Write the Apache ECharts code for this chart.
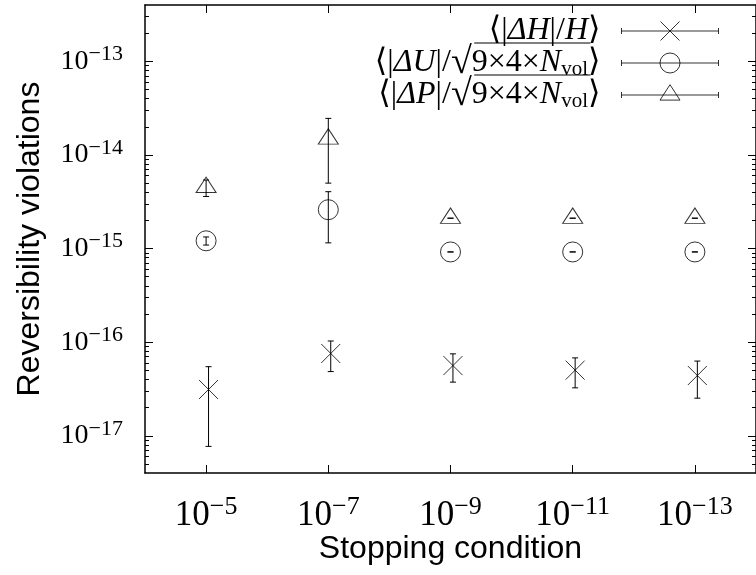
<!DOCTYPE html>
<html><head><meta charset="utf-8">
<script src="https://cdn.jsdelivr.net/npm/echarts@6/dist/echarts.min.js"></script>
<style>html,body{margin:0;padding:0;background:#fff}#c{width:756px;height:575px}</style>
</head><body><div id="c"></div>
<script>
// ---- data ----
const xPositions = [1, 2, 3, 4, 5];
const xExponents = [-5, -7, -9, -11, -13];      // stopping condition 10^e
const yExponents = [-17, -16, -15, -14, -13];   // y tick labels 10^e
const minorMultipliers = [2, 3, 4, 5, 6, 7, 8, 9];
const seriesNames = ['⟨|ΔH|/H⟩', '⟨|ΔU|/√9×4×N_vol⟩', '⟨|ΔP|/√9×4×N_vol⟩'];
const hMean = [3.12e-17, 7.57e-17, 5.62e-17, 5.02e-17, 4.40e-17];
const hErr  = [2.35e-17, 2.72e-17, 1.88e-17, 1.77e-17, 1.88e-17];
const uMean = [1.21e-15, 2.60e-15, 9.2e-16, 9.2e-16, 9.2e-16];
const uErr  = [1.2e-16, 1.45e-15, 2e-18, 2e-18, 2e-18];
const pMean = [4.50e-15, 1.48e-14, 2.11e-15, 2.11e-15, 2.11e-15];
const pErr  = [9.0e-16, 9.8e-15, 3e-18, 3e-18, 3e-18];
const hShift = 0.02; // the ΔH points are drawn slightly to the right

// ---- helpers ----
const SERIF = "'Liberation Serif','DejaVu Serif',serif";
const SANS = "'Liberation Sans','DejaVu Sans',sans-serif";
const yMin = 4e-18, yMax = 4e-13;
const yMajor = yExponents.map(e => Math.pow(10, e));
const yMinor = [];
for (let d = -18; d <= -13; d++) minorMultipliers.forEach(m => { const v = m * Math.pow(10, d); if (v > yMin * 1.0001 && v < yMax * 0.9999) yMinor.push(v); });
const expStr = e => (e < 0 ? '−' + (-e) : String(e));
const powRich = e => '{b|10}{s|' + expStr(e) + '}';
const yTickRich = {
  b: { fontFamily: SERIF, fontSize: 28, lineHeight: 20, color: '#000' },
  s: { fontFamily: SERIF, fontSize: 22, lineHeight: 6, padding: [0, 0, 14, 0], color: '#000' }
};
const xTickRich = {
  b: { fontFamily: SERIF, fontSize: 35, lineHeight: 20, color: '#000' },
  s: { fontFamily: SERIF, fontSize: 26, lineHeight: 2, padding: [0, 0, 18, 0], color: '#000' }
};
const zip = (xs, ys, es, sh) => xs.map((x, i) => [x + sh, ys[i], es[i]]);
const BLACK = '#000';

function errRender(params, api) {
  const x = api.value(0), y = api.value(1), e = api.value(2);
  const t = api.coord([x, y + e]), b = api.coord([x, y - e]);
  const st = { stroke: BLACK, lineWidth: 1, fill: 'none' };
  return { type: 'group', children: [
    { type: 'line', shape: { x1: t[0], y1: t[1], x2: b[0], y2: b[1] }, style: st },
    { type: 'line', shape: { x1: t[0] - 3, y1: t[1], x2: t[0] + 3, y2: t[1] }, style: st },
    { type: 'line', shape: { x1: b[0] - 3, y1: b[1], x2: b[0] + 3, y2: b[1] }, style: st }
  ]};
}

const symStyle = { color: 'none', borderColor: BLACK, borderWidth: 1 };
const crossPath = 'path://M0 0L19 19M19 0L0 19';

// legend sample icons: 97 x 44 box, sample line at mid-height (y = 22)
const legendIcons = [
  'path://M0 0M97 44M0 19L0 25M0 22L97 22M97 19L97 25M39 12.5L58 31.5M58 12.5L39 31.5',
  'path://M0 0M97 44M0 19L0 25M0 22L97 22M97 19L97 25M38.5 22A10 10 0 1 0 58.5 22A10 10 0 1 0 38.5 22',
  'path://M0 0M97 44M0 19L0 25M0 22L97 22M97 19L97 25M48.5 11.7L58.5 27.1L38.5 27.1Z'
];
const LF = 32, LSUB = 21, LROOT = 38;
const legendRich = {
  n: { fontFamily: SERIF, fontSize: LF, lineHeight: 20, color: '#000' },
  i: { fontFamily: SERIF, fontSize: LF, fontStyle: 'italic', lineHeight: 20, color: '#000' },
  r: { fontFamily: SERIF, fontSize: LROOT, lineHeight: 20, color: '#000' },
  sub: { fontFamily: SERIF, fontSize: LSUB, lineHeight: 8, padding: [12, 0, 0, 0], color: '#000' }
};
const legendText = {};
legendText[seriesNames[0]] = '{n|⟨|}{i|ΔH}{n||/}{i|H}{n|⟩}';
legendText[seriesNames[1]] = '{n|⟨|}{i|ΔU}{n||/}{r|√}{n|9×4×}{i|N}{sub|vol}{n|⟩}';
legendText[seriesNames[2]] = '{n|⟨|}{i|ΔP}{n||/}{r|√}{n|9×4×}{i|N}{sub|vol}{n|⟩}';

// legend geometry (one legend block per entry, rows 32 px apart)
const LEG_RIGHT = 35, ICON_W = 97, ICON_H = 44, TEXT_PAD = 16;
const ROW1_Y = 29, ROW_STEP = 32;
const rowY = k => ROW1_Y + k * ROW_STEP;
const textRight = 756 - LEG_RIGHT - ICON_W - 5 - TEXT_PAD;
const ctx = document.createElement('canvas').getContext('2d');
const mw = (t, font) => { ctx.font = font; return ctx.measureText(t).width; };
const wClose = mw('⟩', LF + 'px ' + SERIF);
const wRad = mw('9×4×', LF + 'px ' + SERIF) + mw('N', 'italic ' + LF + 'px ' + SERIF) + mw('vol', LSUB + 'px ' + SERIF);
const ovX2 = textRight - wClose, ovX1 = ovX2 - wRad;

const legends = seriesNames.map((n, k) => ({
  orient: 'vertical', align: 'right', right: LEG_RIGHT, top: rowY(k) - ICON_H / 2 - 0.5, padding: 0,
  itemWidth: ICON_W, itemHeight: ICON_H, itemGap: 0, symbolKeepAspect: true,
  selectedMode: false,
  itemStyle: { color: 'none', borderColor: BLACK, borderWidth: 1 },
  textStyle: { rich: legendRich, padding: [0, TEXT_PAD, 0, 0] },
  formatter: name => legendText[name],
  data: [{ name: n, icon: legendIcons[k] }]
}));

const xAxisBase = {
  type: 'value', min: 0.5, max: 5.5,
  axisLine: { show: true, lineStyle: { color: BLACK, width: 1.5 } },
  axisTick: { show: true, inside: true, length: 8, customValues: xPositions, lineStyle: { color: BLACK, width: 1 } },
  splitLine: { show: false }
};
const yBase = {
  type: 'log', logBase: 10, min: yMin, max: yMax,
  axisLine: { show: true, lineStyle: { color: BLACK, width: 1.5 } },
  splitLine: { show: false }, minorTick: { show: false }
};

const option = {
  animation: false,
  backgroundColor: '#fff',
  grid: { left: 145, top: 5, width: 615, height: 468, containLabel: false },
  xAxis: [
    Object.assign({}, xAxisBase, {
      position: 'bottom',
      axisLabel: { customValues: xPositions, margin: 33, rich: xTickRich,
        formatter: v => powRich(xExponents[xPositions.indexOf(Math.round(v))]) },
      name: 'Stopping condition', nameLocation: 'middle', nameGap: 60, nameMoveOverlap: false,
      nameTextStyle: { fontFamily: SANS, fontSize: 32, color: BLACK }
    }),
    Object.assign({}, xAxisBase, { position: 'top', axisLabel: { show: false } })
  ],
  yAxis: [
    Object.assign({}, yBase, {
      position: 'left',
      axisTick: { show: true, inside: true, length: 8, customValues: yMajor, lineStyle: { color: BLACK } },
      axisLabel: { customValues: yMajor, margin: 22, rich: yTickRich,
        formatter: v => powRich(Math.round(Math.log10(v))) },
      name: 'Reversibility violations', nameLocation: 'middle', nameGap: 99, nameMoveOverlap: false,
      nameTextStyle: { fontFamily: SANS, fontSize: 32, color: BLACK }
    }),
    Object.assign({}, yBase, {
      position: 'left', axisLine: { show: false },
      axisTick: { show: true, inside: true, length: 4, customValues: yMinor, lineStyle: { color: BLACK } },
      axisLabel: { show: false }
    }),
    Object.assign({}, yBase, {
      position: 'right',
      axisTick: { show: true, inside: true, length: 8, customValues: yMajor, lineStyle: { color: BLACK } },
      axisLabel: { show: false }
    }),
    Object.assign({}, yBase, {
      position: 'right', axisLine: { show: false },
      axisTick: { show: true, inside: true, length: 4, customValues: yMinor, lineStyle: { color: BLACK } },
      axisLabel: { show: false }
    })
  ],
  legend: legends,
  series: [
    { name: seriesNames[0], type: 'scatter', symbol: crossPath, symbolSize: 19,
      itemStyle: symStyle, data: zip(xPositions, hMean, hErr, hShift).map(d => [d[0], d[1]]) },
    { name: seriesNames[1], type: 'scatter', symbol: 'circle', symbolSize: 20,
      itemStyle: symStyle, data: zip(xPositions, uMean, uErr, 0).map(d => [d[0], d[1]]) },
    { name: seriesNames[2], type: 'scatter', symbol: 'triangle', symbolSize: [20, 15.4], symbolOffset: [0, -2.57],
      itemStyle: symStyle, data: zip(xPositions, pMean, pErr, 0).map(d => [d[0], d[1]]) },
    { name: 'errH', type: 'custom', renderItem: errRender, data: zip(xPositions, hMean, hErr, hShift), z: 3 },
    { name: 'errU', type: 'custom', renderItem: errRender, data: zip(xPositions, uMean, uErr, 0), z: 3 },
    { name: 'errP', type: 'custom', renderItem: errRender, data: zip(xPositions, pMean, pErr, 0), z: 3 }
  ],
  graphic: [1, 2].map(k => ({
    type: 'line', silent: true,
    shape: { x1: ovX1, y1: rowY(k) - 18, x2: ovX2, y2: rowY(k) - 18 },
    style: { stroke: BLACK, lineWidth: 1 }
  }))
};
const chart = echarts.init(document.getElementById('c'), null, { renderer: 'canvas' });
chart.setOption(option);
</script></body></html>
